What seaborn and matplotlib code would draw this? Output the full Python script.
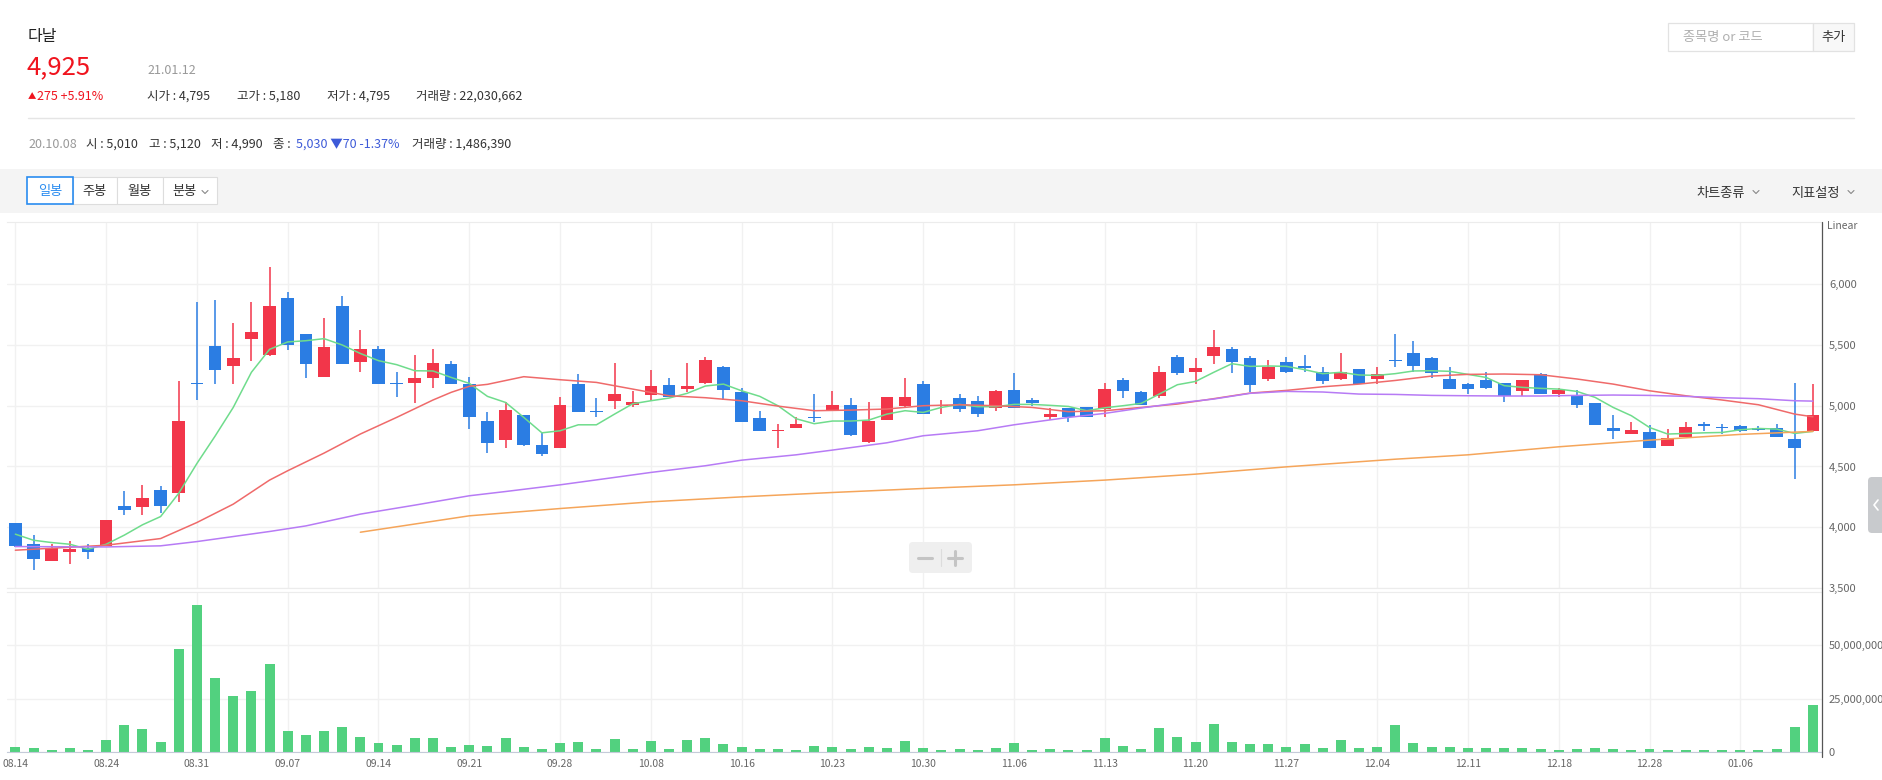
import matplotlib
matplotlib.use("Agg")
import matplotlib.pyplot as plt
import seaborn as sns
import numpy as np
import pandas as pd
from matplotlib.lines import Line2D
from matplotlib.patches import Rectangle, FancyBboxPatch
from matplotlib.transforms import Affine2D

# ------------------------ data (다날, 일봉) ------------------------
tick_labels = ["08.14", "08.24", "08.31", "09.07", "09.14", "09.21", "09.28",
               "10.08", "10.16", "10.23", "10.30", "11.06", "11.13", "11.20",
               "11.27", "12.04", "12.11", "12.18", "12.28", "01.06"]

opens = [4035, 3865, 3720, 3800, 3830, 3845, 4175, 4170, 4310, 4280,
         5190, 5490, 5330, 5550, 5420, 5890, 5590, 5240, 5820, 5360,
         5470, 5190, 5190, 5230, 5340, 5180, 4875, 4715, 4920, 4680,
         4655, 5180, 4950, 5040, 5010, 5090, 5170, 5140, 5190, 5320,
         5110, 4895, 4790, 4820, 4900, 4960, 5010, 4700, 4885, 4995,
         5180, 4995, 5060, 5040, 4985, 5130, 5050, 4910, 4985, 4990,
         4970, 5210, 5110, 5080, 5400, 5280, 5410, 5470, 5390, 5220,
         5360, 5330, 5280, 5220, 5300, 5220, 5370, 5430, 5390, 5220,
         5180, 5210, 5190, 5120, 5260, 5100, 5090, 5020, 4820, 4770,
         4785, 4665, 4740, 4850, 4825, 4835, 4815, 4820, 4730, 4795]
highs = [4035, 3935, 3865, 3890, 3865, 4060, 4300, 4350, 4340, 5200,
         5850, 5870, 5680, 5850, 6140, 5940, 5590, 5720, 5900, 5620,
         5490, 5280, 5420, 5470, 5370, 5240, 4950, 5030, 4920, 4775,
         5070, 5260, 5060, 5350, 5120, 5290, 5230, 5350, 5400, 5330,
         5150, 4960, 4850, 4910, 5100, 5120, 5060, 5030, 5070, 5230,
         5200, 5050, 5100, 5080, 5130, 5270, 5060, 4980, 4985, 4990,
         5190, 5230, 5120, 5330, 5420, 5390, 5620, 5480, 5410, 5380,
         5400, 5420, 5320, 5430, 5300, 5320, 5590, 5530, 5400, 5320,
         5190, 5280, 5190, 5210, 5270, 5150, 5130, 5020, 4920, 4865,
         4845, 4805, 4870, 4870, 4850, 4845, 4835, 4850, 5190, 5180]
lows = [3835, 3645, 3720, 3700, 3740, 3845, 4100, 4100, 4120, 4210,
        5050, 5180, 5180, 5370, 5410, 5460, 5230, 5240, 5340, 5280,
        5180, 5070, 5020, 5150, 5180, 4810, 4615, 4655, 4665, 4590,
        4655, 4945, 4910, 4970, 4990, 5040, 5070, 5110, 5180, 5050,
        4865, 4795, 4655, 4820, 4870, 4960, 4755, 4690, 4885, 4985,
        4930, 4935, 4945, 4905, 4960, 4985, 4995, 4880, 4870, 4905,
        4910, 5060, 5005, 5060, 5250, 5180, 5340, 5270, 5110, 5200,
        5270, 5280, 5180, 5210, 5180, 5180, 5320, 5280, 5230, 5140,
        5100, 5140, 5030, 5080, 5100, 5070, 4985, 4840, 4725, 4770,
        4655, 4665, 4740, 4795, 4770, 4780, 4795, 4745, 4400, 4795]
closes = [3845, 3740, 3830, 3820, 3800, 4060, 4140, 4240, 4175, 4875,
          5180, 5290, 5390, 5610, 5820, 5500, 5340, 5480, 5340, 5470,
          5180, 5180, 5230, 5350, 5180, 4905, 4690, 4965, 4675, 4605,
          5010, 4945, 4945, 5100, 5030, 5160, 5070, 5160, 5380, 5130,
          4870, 4795, 4800, 4850, 4895, 5010, 4755, 4875, 5070, 5070,
          4930, 5010, 4970, 4935, 5120, 4985, 5025, 4935, 4910, 4905,
          5140, 5120, 5010, 5280, 5270, 5310, 5480, 5360, 5170, 5320,
          5280, 5310, 5200, 5280, 5180, 5260, 5365, 5330, 5270, 5140,
          5140, 5150, 5080, 5210, 5100, 5130, 5010, 4840, 4790, 4800,
          4655, 4735, 4825, 4830, 4815, 4790, 4800, 4745, 4650, 4925]
volumes_m = [2.2, 1.7, 0.8, 1.7, 0.8, 5.5, 12.5, 10.7, 4.5, 48.3,
             68.5, 34.6, 26.2, 28.5, 41.2, 9.7, 7.8, 9.7, 11.6, 6.9,
             4.1, 3.1, 6.4, 6.4, 2.2, 3.1, 2.7, 6.4, 2.2, 1.3,
             4.1, 4.5, 1.3, 6.0, 1.49, 5.0, 1.3, 5.5, 6.4, 3.6,
             2.2, 1.3, 1.3, 0.8, 2.7, 2.2, 1.3, 2.2, 1.7, 5.0,
             1.7, 0.8, 1.3, 0.8, 1.7, 4.1, 0.8, 1.3, 0.8, 0.8,
             6.4, 2.7, 1.3, 11.1, 6.9, 4.5, 13.0, 4.5, 3.6, 3.6,
             2.2, 3.6, 1.7, 5.5, 1.7, 2.2, 12.5, 4.1, 2.2, 2.2,
             1.7, 1.7, 1.7, 1.7, 1.3, 0.8, 1.3, 1.7, 1.3, 0.8,
             1.3, 0.8, 0.8, 0.8, 0.8, 0.8, 0.8, 1.3, 11.6, 22.03]

ma5 = [3943, 3893, 3874, 3860, 3819, 3860, 3935, 4020, 4088, 4280,
       4525, 4750, 4986, 5275, 5464, 5525, 5535, 5552, 5500, 5430,
       5371, 5338, 5288, 5286, 5233, 5184, 5077, 5027, 4904, 4777,
       4794, 4843, 4843, 4931, 5016, 5041, 5063, 5102, 5162, 5178,
       5123, 5077, 5000, 4893, 4852, 4874, 4874, 4882, 4931, 4959,
       4945, 4986, 5011, 4992, 4992, 5011, 5011, 5003, 4994, 4959,
       4983, 5000, 5019, 5096, 5173, 5200, 5275, 5346, 5324, 5327,
       5324, 5297, 5264, 5275, 5253, 5250, 5264, 5286, 5288, 5283,
       5258, 5233, 5165, 5151, 5143, 5137, 5118, 5069, 4986, 4918,
       4821, 4767, 4772, 4777, 4780, 4802, 4813, 4808, 4772, 4789]
ma20_day = [0, 5, 8, 10, 12, 14, 15, 17, 19, 21, 23, 24, 25,
            26, 28, 30, 32, 34, 36, 38, 40, 42, 44, 46, 48, 50,
            52, 54, 56, 58, 60, 62, 64, 66, 68, 70, 72, 74, 76,
            78, 80, 82, 84, 86, 88, 90, 92, 94, 96, 98, 99]
ma20 = [3811, 3852, 3907, 4039, 4190, 4388, 4465, 4610, 4767, 4904, 5047, 5110, 5160,
        5176, 5239, 5214, 5192, 5137, 5082, 5066, 5041, 4997, 4959, 4964, 4973, 5000,
        5008, 5000, 4986, 4951, 4959, 4986, 5014, 5058, 5104, 5126, 5156, 5178, 5208,
        5244, 5258, 5261, 5255, 5220, 5178, 5123, 5082, 5047, 5008, 4931, 4909]
ma60_day = [0, 5, 8, 10, 14, 16, 19, 22, 25, 27, 30, 33, 35, 38, 40, 43, 45, 48, 50,
            53, 55, 58, 60, 62, 64, 66, 68, 70, 72, 74, 76,
            78, 80, 82, 84, 86, 88, 90, 92, 94, 96, 98, 99]
ma60 = [3841, 3838, 3847, 3882, 3965, 4011, 4108, 4182, 4259, 4294, 4349, 4410, 4451,
        4506, 4552, 4596, 4635, 4695, 4753, 4794, 4843, 4904, 4937, 4981, 5022, 5055,
        5102, 5118, 5113, 5096, 5093, 5085, 5082, 5080, 5080, 5085, 5088, 5085, 5077,
        5066, 5058, 5041, 5038]
ma120_day = [19, 25, 30, 35, 40, 45, 50, 55, 60, 65, 70, 76, 80, 85, 90, 95, 99]
ma120 = [3959, 4094, 4154, 4209, 4250, 4286, 4319, 4349, 4388, 4437, 4497, 4560,
         4596, 4662, 4717, 4764, 4789]

# ------------------------ style ------------------------
RED = "#f2364a"
BLUE = "#2b7de3"
VOL_GREEN = "#52d17f"
W, H = 1883, 780

sns.set_style("white")
plt.rcParams["font.family"] = ["Noto Sans CJK KR", "DejaVu Sans"]

fig = plt.figure(figsize=(W / 100, H / 100), dpi=100)
fig.patch.set_facecolor("white")
# pixel coords, y downwards
P = Affine2D().scale(1 / W, -1 / H).translate(0, 1) + fig.transFigure


def txt(x, y, s, size=9, color="#333333", ha="left", va="baseline", **kw):
    fig.text(x, y, s, transform=P, fontsize=size, color=color, ha=ha, va=va, **kw)


def line(xs, ys, color, lw=1.0, **kw):
    fig.add_artist(Line2D(xs, ys, transform=P, color=color, linewidth=lw, **kw))


def box(x0, y0, x1, y1, fc, ec="none", lw=0.8, r=0):
    if r:
        p = FancyBboxPatch((x0, y0), x1 - x0, y1 - y0, boxstyle=f"round,pad=0,rounding_size={r}",
                           transform=P, facecolor=fc, edgecolor=ec, linewidth=lw)
    else:
        p = Rectangle((x0, y0), x1 - x0, y1 - y0, transform=P, facecolor=fc,
                      edgecolor=ec, linewidth=lw)
    fig.add_artist(p)


# ------------------------ header ------------------------
txt(28, 41, "다날", size=11.5, color="#222222")
txt(27, 74.5, "4,925", size=18.5, color="#f0141e", weight="medium")
txt(147, 74.5, "21.01.12", size=9, color="#999999")
txt(28, 99, "▲", size=6, color="#f0141e")
txt(37, 100, "275 +5.91%", size=9, color="#f0141e")
txt(147, 100, "시가 : 4,795", size=9)
txt(237, 100, "고가 : 5,180", size=9)
txt(327, 100, "저가 : 4,795", size=9)
txt(416, 100, "거래량 : 22,030,662", size=9)
line([28, 1854], [118, 118], "#e5e5e5", lw=1)

txt(28, 148, "20.10.08", size=9, color="#999999")
txt(86, 148, "시 : 5,010", size=9)
txt(149, 148, "고 : 5,120", size=9)
txt(211, 148, "저 : 4,990", size=9)
txt(273, 148, "종 :", size=9)
txt(296, 148, "5,030 ▼70 -1.37%", size=9, color="#3d5ad8")
txt(412, 148, "거래량 : 1,486,390", size=9)

# search box
box(1668, 23, 1813, 51, "white", ec="#e2e2e2", lw=0.9)
box(1813, 23, 1854, 51, "#f8f8f8", ec="#e2e2e2", lw=0.9)
txt(1683, 38, "종목명 or 코드", size=9.5, color="#b0b0b0", va="center")
txt(1833.5, 38, "추가", size=9.5, color="#333333", ha="center", va="center")

# toolbar
box(0, 169, W, 213, "#f4f4f4")
for (x0, x1) in [(73, 117), (117, 163), (163, 217)]:
    box(x0, 177, x1, 204, "white", ec="#dddddd", lw=0.8)
box(27.5, 177, 73, 204, "white", ec="#2a8cf0", lw=1.2)
txt(50.5, 191.5, "일봉", size=9.5, color="#2a8cf0", ha="center", va="center")
txt(95, 191.5, "주봉", size=9.5, ha="center", va="center")
txt(140, 191.5, "월봉", size=9.5, ha="center", va="center")
txt(172, 191.5, "분봉", size=9.5, va="center")
txt(1696, 193, "차트종류", size=9.5, va="center")
txt(1791, 193, "지표설정", size=9.5, va="center")
for cx in [205, 1756, 1851]:
    line([cx - 3, cx, cx + 3], [190.5, 193.5, 190.5], "#888888", lw=0.8)

# ------------------------ chart ------------------------
ax = fig.add_axes([7 / W, 1 - 588 / H, 1815 / W, 366 / H])
axv = fig.add_axes([7 / W, 1 - 752 / H, 1815 / W, 160 / H])

days = np.arange(len(closes))
o = np.array(opens)
c = np.array(closes)
cols = np.where(c >= o, RED, BLUE)
ax.vlines(days, lows, highs, colors=cols, linewidth=1.1, zorder=2)
ax.bar(days, np.maximum(np.abs(c - o), 10), bottom=np.minimum(o, c), width=0.7,
       color=cols, linewidth=0, zorder=3)

sns.lineplot(x=days, y=ma5, ax=ax, color="#6fdc8c", linewidth=1.1, zorder=4)
sns.lineplot(x=ma20_day, y=ma20, ax=ax, color="#ef6a6a", linewidth=1.1, zorder=4)
sns.lineplot(x=ma60_day, y=ma60, ax=ax, color="#b77bf5", linewidth=1.1, zorder=4)
sns.lineplot(x=ma120_day, y=ma120, ax=ax, color="#f5a55a", linewidth=1.1, zorder=4)

ax.set_xlim(-0.46, 99.5)
ax.set_ylim(3500, 6512)
ax.set_xticks(range(0, 100, 5))
price_ticks = [3500, 4000, 4500, 5000, 5500, 6000]
ax.set_yticks(price_ticks)
ax.set_yticklabels([f"{v:,}" for v in price_ticks])
ax.yaxis.tick_right()
ax.tick_params(axis="y", length=0, pad=5, labelsize=8, labelcolor="#666666")
ax.tick_params(axis="x", length=0, labelbottom=False)
ax.grid(True, color="#f1f1f1", linewidth=1)
ax.set_axisbelow(True)
ax.set_xlabel("")
ax.set_ylabel("")
for s in ["left", "right"]:
    ax.spines[s].set_visible(False)
for s in ["top", "bottom"]:
    ax.spines[s].set_color("#ececec")

vol_df = pd.DataFrame({"day": days, "vol": np.array(volumes_m) * 1e6})
sns.barplot(data=vol_df, x="day", y="vol", native_scale=True, color=VOL_GREEN,
            saturation=1, width=0.55, errorbar=None, linewidth=0, ax=axv)
axv.set_xlim(-0.46, 99.5)
axv.set_ylim(0, 74.8e6)
axv.set_xticks(range(0, 100, 5))
axv.set_xticklabels(tick_labels)
vol_ticks = [0, 25_000_000, 50_000_000]
axv.set_yticks(vol_ticks)
axv.set_yticklabels([f"{v:,}" for v in vol_ticks])
axv.yaxis.tick_right()
axv.tick_params(axis="y", length=0, pad=5, labelsize=8, labelcolor="#666666")
axv.tick_params(axis="x", length=3, color="#c5cbd9", width=1, pad=2,
                labelsize=7.5, labelcolor="#666666")
axv.grid(True, color="#f1f1f1", linewidth=1)
axv.set_axisbelow(True)
axv.set_xlabel("")
axv.set_ylabel("")
for s in ["left", "right"]:
    axv.spines[s].set_visible(False)
axv.spines["top"].set_color("#ececec")
axv.spines["bottom"].set_color("#c5cbd9")

# right scale line and label
line([1822, 1822], [222, 757], "#555555", lw=0.9)
txt(1827, 226, "Linear", size=7.5, color="#666666", va="center")

# zoom control
box(909, 542, 972, 573, "#efefef", r=4)
line([941, 941], [549, 566], "#dcdcdc", lw=0.8)
line([918, 932], [557.5, 557.5], "#c4c4c4", lw=2.2)
line([948, 962], [557.5, 557.5], "#c4c4c4", lw=2.2)
line([955, 955], [550.5, 564.5], "#c4c4c4", lw=2.2)

# collapse tab
box(1868, 477, 1890, 533, "#c8cacd", r=4)
line([1878, 1874, 1878], [500, 505, 510], "white", lw=1.2)

fig.savefig("out.png", dpi=100, facecolor="white")
